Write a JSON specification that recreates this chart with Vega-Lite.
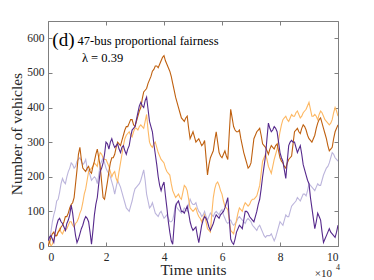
{
  "$schema": "https://vega.github.io/schema/vega-lite/v6.json",
  "autosize": {"type": "none"},
  "padding": {"left": 48, "top": 21, "right": 36, "bottom": 34},
  "width": 290,
  "height": 225,
  "background": "white",
  "config": {
    "view": {"stroke": "#7f7f7f", "strokeWidth": 1},
    "font": "Liberation Serif",
    "axis": {
      "grid": false,
      "domainColor": "#7f7f7f",
      "tickColor": "#7f7f7f",
      "tickSize": -4,
      "labelFont": "Liberation Serif",
      "labelFontSize": 11.5,
      "labelColor": "#262626",
      "titleFont": "Liberation Serif",
      "titleFontSize": 15.5,
      "titleFontWeight": "normal",
      "titleColor": "#262626"
    }
  },
  "resolve": {"axis": {"x": "independent", "y": "independent"}},
  "datasets": {
    "series": [
      {"t":0,"P":15,"L":5,"O":10,"B":0},
      {"t":0.1,"P":30,"L":40,"O":0,"B":25},
      {"t":0.2,"P":10,"L":90,"O":20,"B":40},
      {"t":0.3,"P":60,"L":130,"O":30,"B":30},
      {"t":0.4,"P":80,"L":155,"O":50,"B":45},
      {"t":0.5,"P":65,"L":195,"O":35,"B":60},
      {"t":0.6,"P":45,"L":180,"O":45,"B":85},
      {"t":0.7,"P":75,"L":215,"O":60,"B":95},
      {"t":0.8,"P":118,"L":240,"O":70,"B":120},
      {"t":0.9,"P":60,"L":225,"O":55,"B":140},
      {"t":1.0,"P":10,"L":245,"O":70,"B":220},
      {"t":1.1,"P":35,"L":255,"O":95,"B":285},
      {"t":1.2,"P":60,"L":235,"O":125,"B":225},
      {"t":1.3,"P":85,"L":250,"O":165,"B":215},
      {"t":1.4,"P":70,"L":215,"O":215,"B":230},
      {"t":1.5,"P":5,"L":190,"O":225,"B":210},
      {"t":1.6,"P":90,"L":200,"O":240,"B":245},
      {"t":1.7,"P":140,"L":180,"O":230,"B":280},
      {"t":1.8,"P":215,"L":235,"O":270,"B":230},
      {"t":1.9,"P":240,"L":255,"O":255,"B":140},
      {"t":2.0,"P":300,"L":225,"O":250,"B":160},
      {"t":2.1,"P":280,"L":210,"O":230,"B":215},
      {"t":2.2,"P":310,"L":185,"O":200,"B":255},
      {"t":2.3,"P":285,"L":150,"O":215,"B":265},
      {"t":2.4,"P":295,"L":190,"O":185,"B":300},
      {"t":2.5,"P":270,"L":170,"O":240,"B":290},
      {"t":2.6,"P":290,"L":140,"O":290,"B":320},
      {"t":2.7,"P":265,"L":110,"O":320,"B":345},
      {"t":2.8,"P":290,"L":100,"O":330,"B":355},
      {"t":2.9,"P":335,"L":130,"O":315,"B":365},
      {"t":3.0,"P":345,"L":165,"O":340,"B":345},
      {"t":3.1,"P":385,"L":175,"O":335,"B":375},
      {"t":3.2,"P":415,"L":190,"O":350,"B":400},
      {"t":3.3,"P":400,"L":220,"O":340,"B":445},
      {"t":3.4,"P":430,"L":150,"O":380,"B":455},
      {"t":3.5,"P":360,"L":110,"O":300,"B":480},
      {"t":3.6,"P":330,"L":125,"O":285,"B":505},
      {"t":3.7,"P":265,"L":95,"O":300,"B":520},
      {"t":3.8,"P":200,"L":85,"O":270,"B":515},
      {"t":3.9,"P":160,"L":100,"O":250,"B":535},
      {"t":4.0,"P":185,"L":80,"O":240,"B":550},
      {"t":4.1,"P":110,"L":90,"O":215,"B":525},
      {"t":4.2,"P":40,"L":70,"O":205,"B":505},
      {"t":4.3,"P":5,"L":75,"O":160,"B":470},
      {"t":4.4,"P":115,"L":120,"O":140,"B":430},
      {"t":4.5,"P":130,"L":105,"O":150,"B":400},
      {"t":4.6,"P":100,"L":95,"O":135,"B":370},
      {"t":4.7,"P":95,"L":110,"O":175,"B":360},
      {"t":4.8,"P":115,"L":100,"O":160,"B":375},
      {"t":4.9,"P":70,"L":135,"O":110,"B":310},
      {"t":5.0,"P":45,"L":120,"O":100,"B":330},
      {"t":5.1,"P":55,"L":125,"O":110,"B":300},
      {"t":5.2,"P":10,"L":100,"O":85,"B":310},
      {"t":5.3,"P":60,"L":85,"O":70,"B":290},
      {"t":5.4,"P":85,"L":100,"O":90,"B":305},
      {"t":5.5,"P":70,"L":75,"O":50,"B":205},
      {"t":5.6,"P":45,"L":95,"O":40,"B":255},
      {"t":5.7,"P":65,"L":85,"O":140,"B":275},
      {"t":5.8,"P":90,"L":100,"O":180,"B":330},
      {"t":5.9,"P":80,"L":90,"O":175,"B":270},
      {"t":6.0,"P":95,"L":105,"O":150,"B":255},
      {"t":6.1,"P":110,"L":80,"O":115,"B":275},
      {"t":6.2,"P":140,"L":65,"O":105,"B":250},
      {"t":6.3,"P":20,"L":75,"O":45,"B":395},
      {"t":6.4,"P":5,"L":60,"O":35,"B":345},
      {"t":6.5,"P":40,"L":70,"O":75,"B":330},
      {"t":6.6,"P":60,"L":85,"O":110,"B":335},
      {"t":6.7,"P":50,"L":75,"O":100,"B":290},
      {"t":6.8,"P":100,"L":65,"O":125,"B":255},
      {"t":6.9,"P":95,"L":80,"O":115,"B":225},
      {"t":7.0,"P":80,"L":70,"O":130,"B":240},
      {"t":7.1,"P":70,"L":55,"O":135,"B":310},
      {"t":7.2,"P":100,"L":45,"O":145,"B":330},
      {"t":7.3,"P":135,"L":60,"O":175,"B":340},
      {"t":7.4,"P":200,"L":40,"O":245,"B":295},
      {"t":7.5,"P":260,"L":25,"O":265,"B":285},
      {"t":7.6,"P":355,"L":30,"O":230,"B":265},
      {"t":7.7,"P":330,"L":35,"O":210,"B":290},
      {"t":7.8,"P":345,"L":15,"O":250,"B":280},
      {"t":7.9,"P":330,"L":40,"O":280,"B":295},
      {"t":8.0,"P":270,"L":70,"O":330,"B":255},
      {"t":8.1,"P":245,"L":60,"O":365,"B":240},
      {"t":8.2,"P":195,"L":90,"O":375,"B":225},
      {"t":8.3,"P":290,"L":85,"O":360,"B":250},
      {"t":8.4,"P":305,"L":115,"O":380,"B":260},
      {"t":8.5,"P":300,"L":125,"O":375,"B":330},
      {"t":8.6,"P":270,"L":140,"O":390,"B":340},
      {"t":8.7,"P":290,"L":130,"O":370,"B":325},
      {"t":8.8,"P":235,"L":150,"O":385,"B":350},
      {"t":8.9,"P":205,"L":145,"O":395,"B":335},
      {"t":9.0,"P":180,"L":180,"O":415,"B":310},
      {"t":9.1,"P":110,"L":170,"O":375,"B":300},
      {"t":9.2,"P":50,"L":160,"O":380,"B":320},
      {"t":9.3,"P":95,"L":180,"O":365,"B":355},
      {"t":9.4,"P":75,"L":175,"O":390,"B":370},
      {"t":9.5,"P":10,"L":205,"O":375,"B":340},
      {"t":9.6,"P":30,"L":225,"O":360,"B":310},
      {"t":9.7,"P":50,"L":240,"O":350,"B":275},
      {"t":9.8,"P":35,"L":270,"O":365,"B":285},
      {"t":9.9,"P":25,"L":255,"O":400,"B":330},
      {"t":10.0,"P":60,"L":245,"O":375,"B":350},
      {"t":0.05,"P":25,"L":20,"O":15,"B":10},
      {"t":0.15,"P":20,"L":70,"O":5,"B":35},
      {"t":0.25,"P":40,"L":105,"O":30,"B":30},
      {"t":0.35,"P":75,"L":135,"O":40,"B":40},
      {"t":0.45,"P":70,"L":180,"O":40,"B":55},
      {"t":0.55,"P":55,"L":185,"O":45,"B":70},
      {"t":0.65,"P":65,"L":200,"O":50,"B":85},
      {"t":0.75,"P":90,"L":225,"O":70,"B":110},
      {"t":0.85,"P":95,"L":235,"O":60,"B":125},
      {"t":0.95,"P":30,"L":230,"O":65,"B":180},
      {"t":1.05,"P":20,"L":250,"O":80,"B":265},
      {"t":1.15,"P":50,"L":245,"O":105,"B":250},
      {"t":1.25,"P":75,"L":240,"O":150,"B":220},
      {"t":1.35,"P":80,"L":225,"O":190,"B":225},
      {"t":1.45,"P":40,"L":205,"O":220,"B":215},
      {"t":1.55,"P":45,"L":195,"O":230,"B":230},
      {"t":1.65,"P":120,"L":195,"O":235,"B":265},
      {"t":1.75,"P":180,"L":205,"O":255,"B":255},
      {"t":1.85,"P":225,"L":245,"O":265,"B":185},
      {"t":1.95,"P":265,"L":240,"O":250,"B":135},
      {"t":2.05,"P":295,"L":215,"O":240,"B":185},
      {"t":2.15,"P":300,"L":200,"O":215,"B":240},
      {"t":2.25,"P":295,"L":170,"O":210,"B":255},
      {"t":2.35,"P":290,"L":170,"O":195,"B":285},
      {"t":2.45,"P":280,"L":180,"O":215,"B":295},
      {"t":2.55,"P":285,"L":155,"O":265,"B":305},
      {"t":2.65,"P":275,"L":125,"O":310,"B":335},
      {"t":2.75,"P":280,"L":105,"O":325,"B":345},
      {"t":2.85,"P":315,"L":115,"O":320,"B":365},
      {"t":2.95,"P":340,"L":150,"O":330,"B":350},
      {"t":3.05,"P":365,"L":170,"O":340,"B":360},
      {"t":3.15,"P":405,"L":180,"O":345,"B":390},
      {"t":3.25,"P":405,"L":205,"O":345,"B":425},
      {"t":3.35,"P":420,"L":190,"O":360,"B":450},
      {"t":3.45,"P":395,"L":130,"O":335,"B":470},
      {"t":3.55,"P":345,"L":115,"O":290,"B":490},
      {"t":3.65,"P":295,"L":110,"O":295,"B":510},
      {"t":3.75,"P":235,"L":90,"O":285,"B":520},
      {"t":3.85,"P":175,"L":95,"O":260,"B":525},
      {"t":3.95,"P":175,"L":90,"O":245,"B":545},
      {"t":4.05,"P":145,"L":85,"O":225,"B":535},
      {"t":4.15,"P":70,"L":80,"O":210,"B":515},
      {"t":4.25,"P":15,"L":70,"O":180,"B":490},
      {"t":4.35,"P":60,"L":95,"O":150,"B":450},
      {"t":4.45,"P":125,"L":110,"O":145,"B":415},
      {"t":4.55,"P":115,"L":100,"O":140,"B":385},
      {"t":4.65,"P":100,"L":100,"O":155,"B":365},
      {"t":4.75,"P":105,"L":105,"O":170,"B":370},
      {"t":4.85,"P":95,"L":120,"O":135,"B":340},
      {"t":4.95,"P":55,"L":125,"O":105,"B":320},
      {"t":5.05,"P":50,"L":120,"O":105,"B":315},
      {"t":5.15,"P":30,"L":110,"O":95,"B":305},
      {"t":5.25,"P":35,"L":95,"O":80,"B":300},
      {"t":5.35,"P":75,"L":90,"O":80,"B":295},
      {"t":5.45,"P":80,"L":85,"O":70,"B":255},
      {"t":5.55,"P":55,"L":85,"O":45,"B":235},
      {"t":5.65,"P":55,"L":90,"O":95,"B":265},
      {"t":5.75,"P":80,"L":95,"O":165,"B":305},
      {"t":5.85,"P":85,"L":95,"O":185,"B":300},
      {"t":5.95,"P":90,"L":100,"O":160,"B":260},
      {"t":6.05,"P":100,"L":90,"O":130,"B":265},
      {"t":6.15,"P":125,"L":70,"O":110,"B":260},
      {"t":6.25,"P":80,"L":70,"O":75,"B":325},
      {"t":6.35,"P":10,"L":65,"O":40,"B":370},
      {"t":6.45,"P":20,"L":65,"O":55,"B":335},
      {"t":6.55,"P":50,"L":80,"O":95,"B":330},
      {"t":6.65,"P":55,"L":80,"O":105,"B":310},
      {"t":6.75,"P":75,"L":70,"O":115,"B":270},
      {"t":6.85,"P":100,"L":75,"O":120,"B":240},
      {"t":6.95,"P":85,"L":75,"O":120,"B":230},
      {"t":7.05,"P":75,"L":60,"O":135,"B":275},
      {"t":7.15,"P":85,"L":50,"O":140,"B":320},
      {"t":7.25,"P":120,"L":55,"O":160,"B":335},
      {"t":7.35,"P":165,"L":50,"O":210,"B":320},
      {"t":7.45,"P":230,"L":30,"O":255,"B":290},
      {"t":7.55,"P":310,"L":30,"O":250,"B":275},
      {"t":7.65,"P":340,"L":30,"O":220,"B":280},
      {"t":7.75,"P":335,"L":25,"O":230,"B":285},
      {"t":7.85,"P":340,"L":25,"O":265,"B":290},
      {"t":7.95,"P":300,"L":55,"O":305,"B":275},
      {"t":8.05,"P":255,"L":65,"O":350,"B":245},
      {"t":8.15,"P":220,"L":75,"O":370,"B":230},
      {"t":8.25,"P":245,"L":85,"O":365,"B":240},
      {"t":8.35,"P":300,"L":100,"O":370,"B":255},
      {"t":8.45,"P":300,"L":120,"O":375,"B":295},
      {"t":8.55,"P":285,"L":130,"O":385,"B":335},
      {"t":8.65,"P":280,"L":135,"O":380,"B":330},
      {"t":8.75,"P":265,"L":140,"O":375,"B":340},
      {"t":8.85,"P":220,"L":150,"O":390,"B":345},
      {"t":8.95,"P":190,"L":160,"O":405,"B":320},
      {"t":9.05,"P":140,"L":175,"O":395,"B":305},
      {"t":9.15,"P":80,"L":165,"O":375,"B":310},
      {"t":9.25,"P":70,"L":170,"O":375,"B":340},
      {"t":9.35,"P":85,"L":175,"O":380,"B":365},
      {"t":9.45,"P":40,"L":190,"O":385,"B":355},
      {"t":9.55,"P":20,"L":215,"O":365,"B":325},
      {"t":9.65,"P":40,"L":230,"O":355,"B":290},
      {"t":9.75,"P":40,"L":255,"O":355,"B":280},
      {"t":9.85,"P":30,"L":265,"O":385,"B":310},
      {"t":9.95,"P":40,"L":250,"O":390,"B":340}
    ],
    "labels": [
      {"t": 0.15, "v": 578, "text": "(d)", "size": 19},
      {"t": 1.02, "v": 580, "text": "47-bus proportional fairness", "size": 12.5},
      {"t": 1.17, "v": 533, "text": "λ = 0.39", "size": 12.5}
    ]
  },
  "layer": [
    {
      "data": {"name": "series"},
      "transform": [
        {"fold": ["L", "O", "B", "P"], "as": ["s", "v"]}
      ],
      "mark": {"type": "line", "strokeWidth": 1.1, "clip": true},
      "encoding": {
        "x": {
          "field": "t", "type": "quantitative",
          "scale": {"domain": [0, 10], "nice": false, "zero": false},
          "axis": {"values": [0, 2, 4, 6, 8, 10], "title": "Time units", "titlePadding": 0, "labelPadding": 9}
        },
        "y": {
          "field": "v", "type": "quantitative",
          "scale": {"domain": [0, 650], "nice": false},
          "axis": {"values": [0, 100, 200, 300, 400, 500, 600], "title": "Number of vehicles", "titlePadding": 2, "labelPadding": 8}
        },
        "color": {
          "field": "s", "type": "nominal",
          "scale": {"domain": ["L", "O", "B", "P"], "range": ["#bcb5dc", "#fdb863", "#bf600f", "#56298c"]},
          "legend": null
        },
        "order": {"field": "t", "type": "quantitative"},
        "detail": {"field": "s"}
      }
    },
    {
      "data": {"name": "series"},
      "mark": {"type": "point", "opacity": 0},
      "encoding": {
        "x": {
          "field": "t", "type": "quantitative",
          "scale": {"domain": [0, 10], "nice": false, "zero": false},
          "axis": {"orient": "top", "values": [0, 2, 4, 6, 8, 10], "labels": false, "title": null, "domain": false}
        },
        "y": {
          "field": "P", "type": "quantitative",
          "scale": {"domain": [0, 650], "nice": false},
          "axis": {"orient": "right", "values": [0, 100, 200, 300, 400, 500, 600], "labels": false, "title": null, "domain": false}
        }
      }
    },
    {
      "data": {"name": "labels"},
      "mark": {"type": "text", "align": "left", "baseline": "alphabetic", "font": "Liberation Serif", "color": "#000000"},
      "encoding": {
        "x": {"field": "t", "type": "quantitative", "scale": {"domain": [0, 10], "nice": false, "zero": false}, "axis": null},
        "y": {"field": "v", "type": "quantitative", "scale": {"domain": [0, 650], "nice": false}, "axis": null},
        "text": {"field": "text"},
        "size": {"field": "size", "type": "quantitative", "scale": null, "legend": null}
      }
    },
    {
      "data": {"values": [{"t": 9.2, "v": -89, "text": "×10"}, {"t": 9.93, "v": -70, "text": "4"}]},
      "mark": {"type": "text", "align": "left", "baseline": "alphabetic", "font": "Liberation Serif", "color": "#262626", "clip": false},
      "encoding": {
        "x": {"field": "t", "type": "quantitative", "scale": {"domain": [0, 10], "nice": false, "zero": false}, "axis": null},
        "y": {"field": "v", "type": "quantitative", "scale": {"domain": [0, 650], "nice": false}, "axis": null},
        "text": {"field": "text"},
        "size": {"condition": {"test": "datum.text === '4'", "value": 8}, "value": 11}
      }
    }
  ]
}
